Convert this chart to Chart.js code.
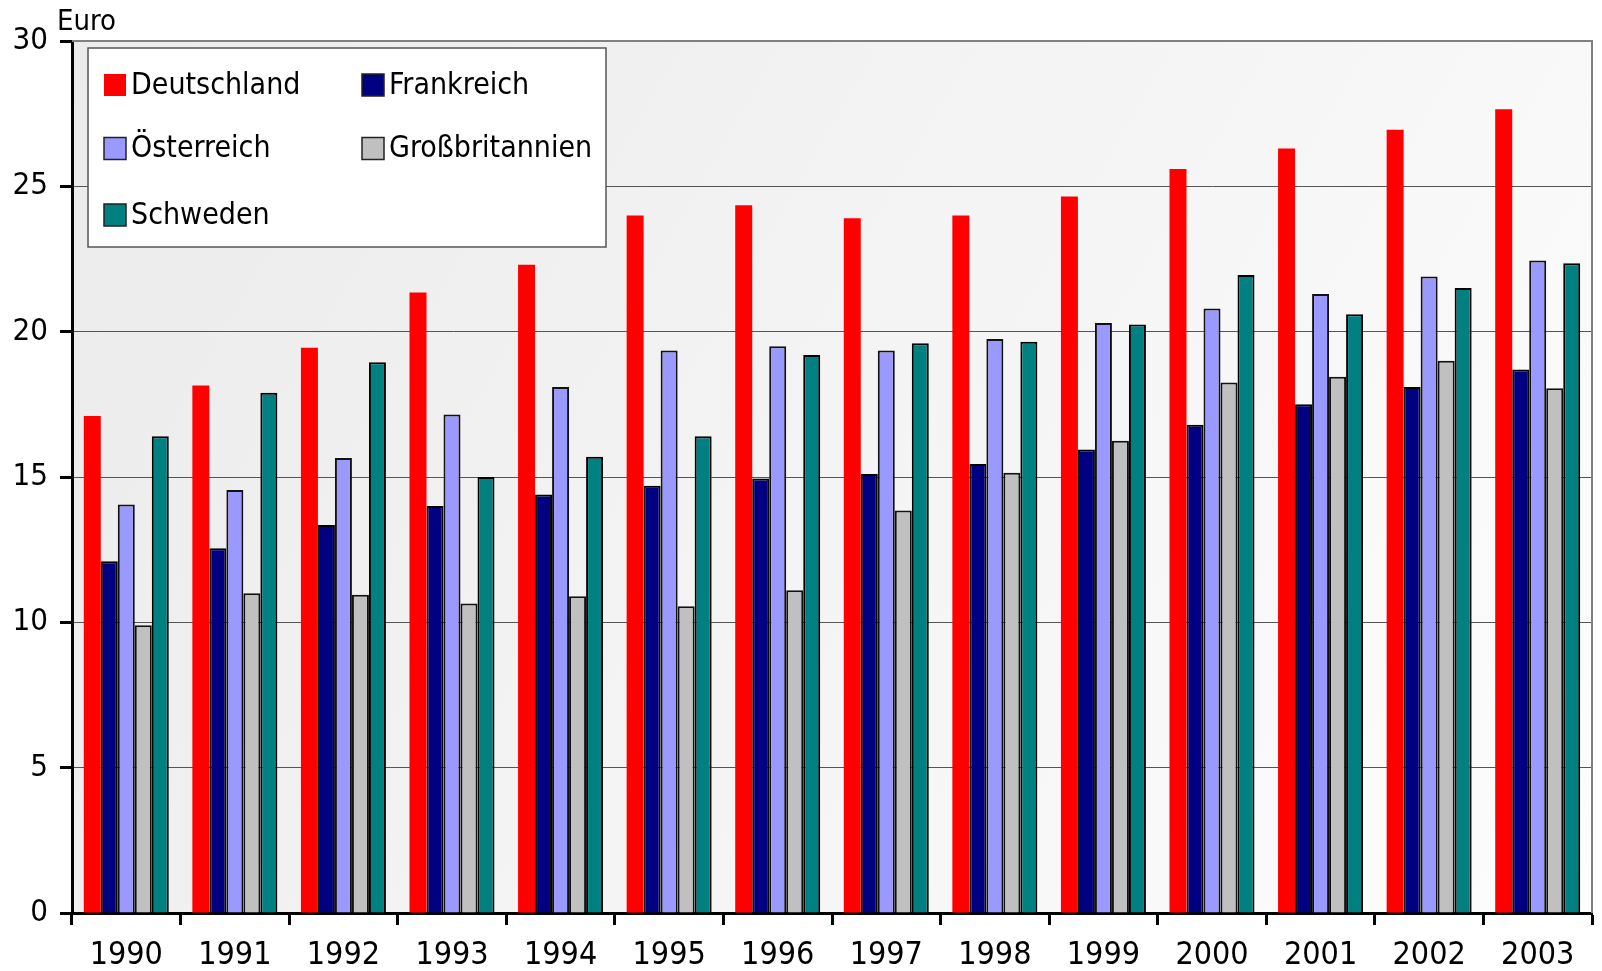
<!DOCTYPE html>
<html>
<head>
<meta charset="utf-8">
<script src="https://cdn.jsdelivr.net/npm/chart.js@4"></script>
<style>
  body { margin: 0; background: #fff; }
</style>
</head>
<body>
<canvas id="lohnChart" width="1602" height="971"></canvas>
<script>
const years = ['1990', '1991', '1992', '1993', '1994', '1995', '1996', '1997', '1998', '1999', '2000', '2001', '2002', '2003'];
const yTicks = [0, 5, 10, 15, 20, 25, 30];

const deutschland = [17.1, 18.15, 19.45, 21.35, 22.3, 24.0, 24.35, 23.9, 24.0, 24.65, 25.6, 26.3, 26.95, 27.65];
const frankreich = [12.1, 12.55, 13.35, 14.0, 14.4, 14.7, 14.95, 15.1, 15.45, 15.95, 16.8, 17.5, 18.1, 18.7];
const oesterreich = [14.05, 14.55, 15.65, 17.15, 18.1, 19.35, 19.5, 19.35, 19.75, 20.3, 20.8, 21.3, 21.9, 22.45];
const grossbritannien = [9.9, 11.0, 10.95, 10.65, 10.9, 10.55, 11.1, 13.85, 15.15, 16.25, 18.25, 18.45, 19.0, 18.05];
const schweden = [16.4, 17.9, 18.95, 15.0, 15.7, 16.4, 19.2, 19.6, 19.65, 20.25, 21.95, 20.6, 21.5, 22.35];

const FONT = "'DejaVu Sans Condensed', 'Liberation Sans Narrow', sans-serif";
Chart.defaults.font.family = FONT;
Chart.defaults.color = '#000';

// grey gradient behind the bars, plus the thin frame on top/right
const plotBackground = {
    id: 'plotBackground',
    beforeDraw(chart) {
        const { ctx, chartArea: a } = chart;
        const g = ctx.createLinearGradient(a.left, a.top, a.right, a.bottom);
        g.addColorStop(0, '#ebebeb');
        g.addColorStop(1, '#fdfdfd');
        ctx.save();
        ctx.fillStyle = g;
        ctx.fillRect(a.left, a.top, a.right - a.left, a.bottom - a.top);
        ctx.restore();
    },
    beforeDatasetsDraw(chart) {
        const { ctx, chartArea: a } = chart;
        ctx.save();
        ctx.strokeStyle = '#808080';
        ctx.lineWidth = 2;
        ctx.beginPath();
        ctx.moveTo(a.left, a.top);
        ctx.lineTo(a.right, a.top);
        ctx.lineTo(a.right, a.bottom);
        ctx.stroke();
        ctx.restore();
    }
};

// unit label + boxed legend in two columns
const boxLegend = {
    id: 'boxLegend',
    afterDraw(chart) {
        const ctx = chart.ctx;
        ctx.save();
        ctx.font = '29px ' + FONT;
        ctx.fillStyle = '#000';
        ctx.textBaseline = 'middle';
        ctx.textAlign = 'left';
        ctx.fillText('Euro', 57, 22);

        ctx.fillStyle = '#fff';
        ctx.fillRect(88, 48, 518, 199);
        ctx.strokeStyle = '#555';
        ctx.lineWidth = 1.5;
        ctx.strokeRect(88, 48, 518, 199);

        const cols = [104, 362];
        const rows = [85, 148.5, 215];
        ctx.font = '30px ' + FONT;
        chart.data.datasets.forEach((ds, i) => {
            const x = cols[i % 2];
            const y = rows[Math.floor(i / 2)];
            ctx.fillStyle = ds.backgroundColor;
            ctx.fillRect(x, y - 11, 22, 22);
            if (ds.borderWidth) {
                ctx.strokeStyle = '#222';
                ctx.lineWidth = 1.5;
                ctx.strokeRect(x, y - 11, 22, 22);
            }
            ctx.fillStyle = '#000';
            ctx.fillText(ds.label, x + 27, y + 1);
        });
        ctx.restore();
    }
};

const ctx = document.getElementById('lohnChart').getContext('2d');
const lohnChart = new Chart(ctx, {
    type: 'bar',
    data: {
        labels: years,
        datasets: [
            { label: 'Deutschland', data: deutschland, backgroundColor: '#ff0000', borderWidth: 0 },
            { label: 'Frankreich', data: frankreich, backgroundColor: '#000080', borderColor: '#000', borderWidth: 2 },
            { label: 'Österreich', data: oesterreich, backgroundColor: '#9999ff', borderColor: '#111', borderWidth: 2 },
            { label: 'Großbritannien', data: grossbritannien, backgroundColor: '#c0c0c0', borderColor: '#111', borderWidth: 2 },
            { label: 'Schweden', data: schweden, backgroundColor: '#008080', borderColor: '#000', borderWidth: 2 }
        ]
    },
    options: {
        responsive: false,
        animation: false,
        devicePixelRatio: 1,
        layout: { padding: { top: 41, right: 10, left: 0, bottom: 0 } },
        datasets: {
            bar: { categoryPercentage: 0.783, barPercentage: 1.0 }
        },
        plugins: {
            legend: { display: false },
            tooltip: { enabled: false }
        },
        scales: {
            x: {
                grid: {
                    offset: true,
                    drawOnChartArea: false,
                    tickLength: 12,
                    tickWidth: 3,
                    tickColor: '#000'
                },
                border: { color: '#000', width: 3 },
                ticks: { font: { size: 32 }, padding: 11, maxRotation: 0 },
                afterFit(scale) { scale.height = 58; }
            },
            y: {
                min: 0,
                max: 30,
                afterBuildTicks(scale) { scale.ticks = yTicks.map(v => ({ value: v })); },
                grid: {
                    color: '#555',
                    lineWidth: 1,
                    tickLength: 12,
                    tickWidth: 3,
                    tickColor: '#000'
                },
                border: { color: '#000', width: 3 },
                ticks: { font: { size: 31 }, padding: 12 },
                afterFit(scale) { scale.width = 72; }
            }
        }
    },
    plugins: [plotBackground, boxLegend]
});
</script>
</body>
</html>
